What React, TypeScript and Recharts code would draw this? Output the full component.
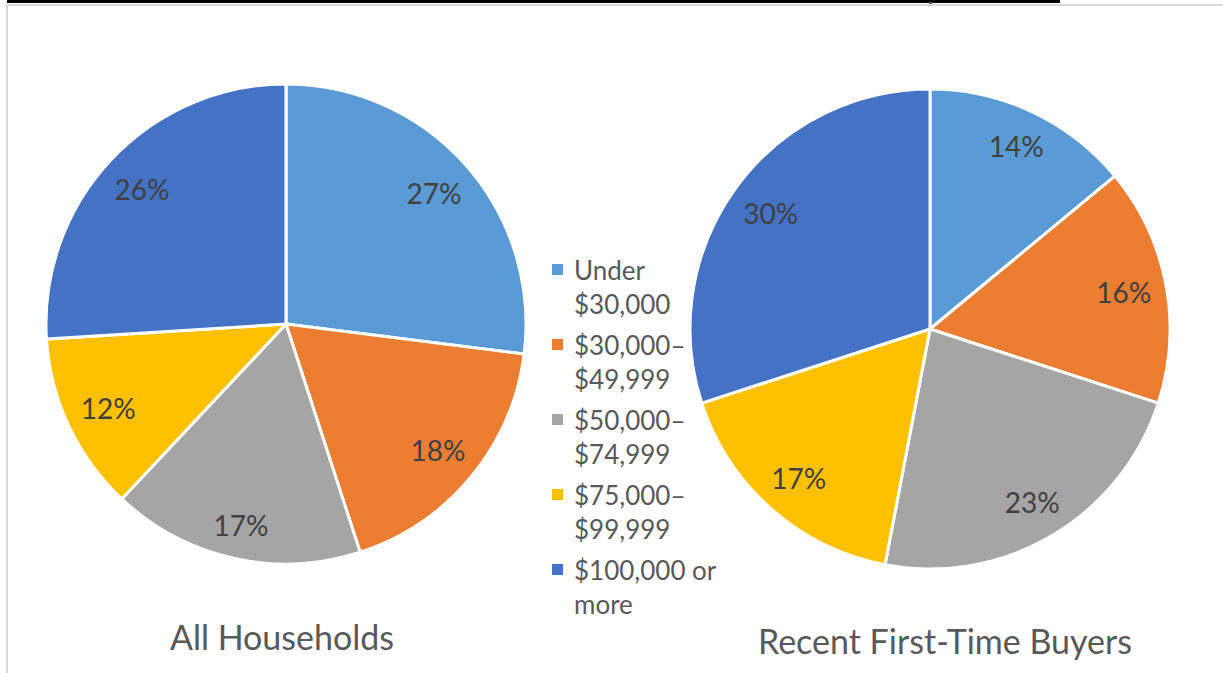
import React from 'react';
import { PieChart, Pie, Cell } from 'recharts';

const categories = ['Under $30,000', '$30,000–$49,999', '$50,000–$74,999', '$75,000–$99,999', '$100,000 or more'];
const colors = ['#5B9BD5', '#ED7D31', '#A5A5A5', '#FFC000', '#4472C4'];
const allHouseholds = [27, 18, 17, 12, 26];
const firstTimeBuyers = [14, 16, 23, 17, 30];
const chartTitles = ['All Households', 'Recent First-Time Buyers'];

const FONT = 'Lato, "Open Sans", sans-serif';
const RAD = Math.PI / 180;

const leftData = categories.map((name, i) => ({ name, value: allHouseholds[i] }));
const rightData = categories.map((name, i) => ({ name, value: firstTimeBuyers[i] }));

function renderLabel(props: any) {
  const { cx, cy, midAngle, outerRadius, value } = props;
  const ca = Math.cos(-midAngle * RAD);
  const sa = Math.sin(-midAngle * RAD);
  const W = 26, H = 12, D = outerRadius - 15;
  const b = W * Math.abs(ca) + H * Math.abs(sa);
  const r = -b + Math.sqrt(b * b - (W * W + H * H - D * D));
  const x = cx + r * ca;
  const y = cy + r * sa;
  return (
    <text x={x} y={y} textAnchor="middle" dominantBaseline="central" fill="#404040" fontSize={28} fontFamily={FONT}>
      {value}%
    </text>
  );
}

export default function App() {
  return (
    <div style={{ position: 'absolute', left: 0, top: 0, width: 1223, height: 673, background: '#fff', overflow: 'hidden' }}>
      <div style={{ position: 'absolute', left: 7, top: 0, width: 1053, height: 3, background: '#000' }} />
      <div style={{ position: 'absolute', left: 929, top: 2, width: 3, height: 2, background: '#555' }} />
      <div style={{ position: 'absolute', left: 6, top: 4, right: 0, bottom: 0, borderTop: '2px solid #d9d9d9', borderLeft: '2px solid #d9d9d9' }} />
      <div style={{ position: 'absolute', left: 0, top: 0 }}>
        <PieChart width={1223} height={673} margin={{ top: 0, right: 0, bottom: 0, left: 0 }}>
          <Pie
            data={leftData}
            dataKey="value"
            nameKey="name"
            cx={286}
            cy={324}
            outerRadius={240}
            startAngle={90}
            endAngle={-270}
            stroke="#ffffff"
            strokeWidth={3}
            label={renderLabel}
            labelLine={false}
            isAnimationActive={false}
          >
            {leftData.map((d, i) => (
              <Cell key={d.name} fill={colors[i]} />
            ))}
          </Pie>
          <Pie
            data={rightData}
            dataKey="value"
            nameKey="name"
            cx={930}
            cy={329}
            outerRadius={240}
            startAngle={90}
            endAngle={-270}
            stroke="#ffffff"
            strokeWidth={3}
            label={renderLabel}
            labelLine={false}
            isAnimationActive={false}
          >
            {rightData.map((d, i) => (
              <Cell key={d.name} fill={colors[i]} />
            ))}
          </Pie>
        </PieChart>
      </div>
      <div style={{ position: 'absolute', left: 552, top: 253, width: 175, fontFamily: FONT, fontSize: 26, lineHeight: '34px', color: '#595959' }}>
        {categories.map((c, i) => (
          <div key={c} style={{ position: 'relative', paddingLeft: 22, marginBottom: 7 }}>
            <span style={{ position: 'absolute', left: 0, top: 11, width: 11, height: 11, background: colors[i] }} />
            {c}
          </div>
        ))}
      </div>
      <div style={{ position: 'absolute', left: 82, width: 400, top: 617, textAlign: 'center', fontFamily: FONT, fontSize: 34, lineHeight: '40px', color: '#595959' }}>
        {chartTitles[0]}
      </div>
      <div style={{ position: 'absolute', left: 745, width: 400, top: 621, textAlign: 'center', fontFamily: FONT, fontSize: 34, lineHeight: '40px', color: '#595959' }}>
        {chartTitles[1]}
      </div>
    </div>
  );
}
